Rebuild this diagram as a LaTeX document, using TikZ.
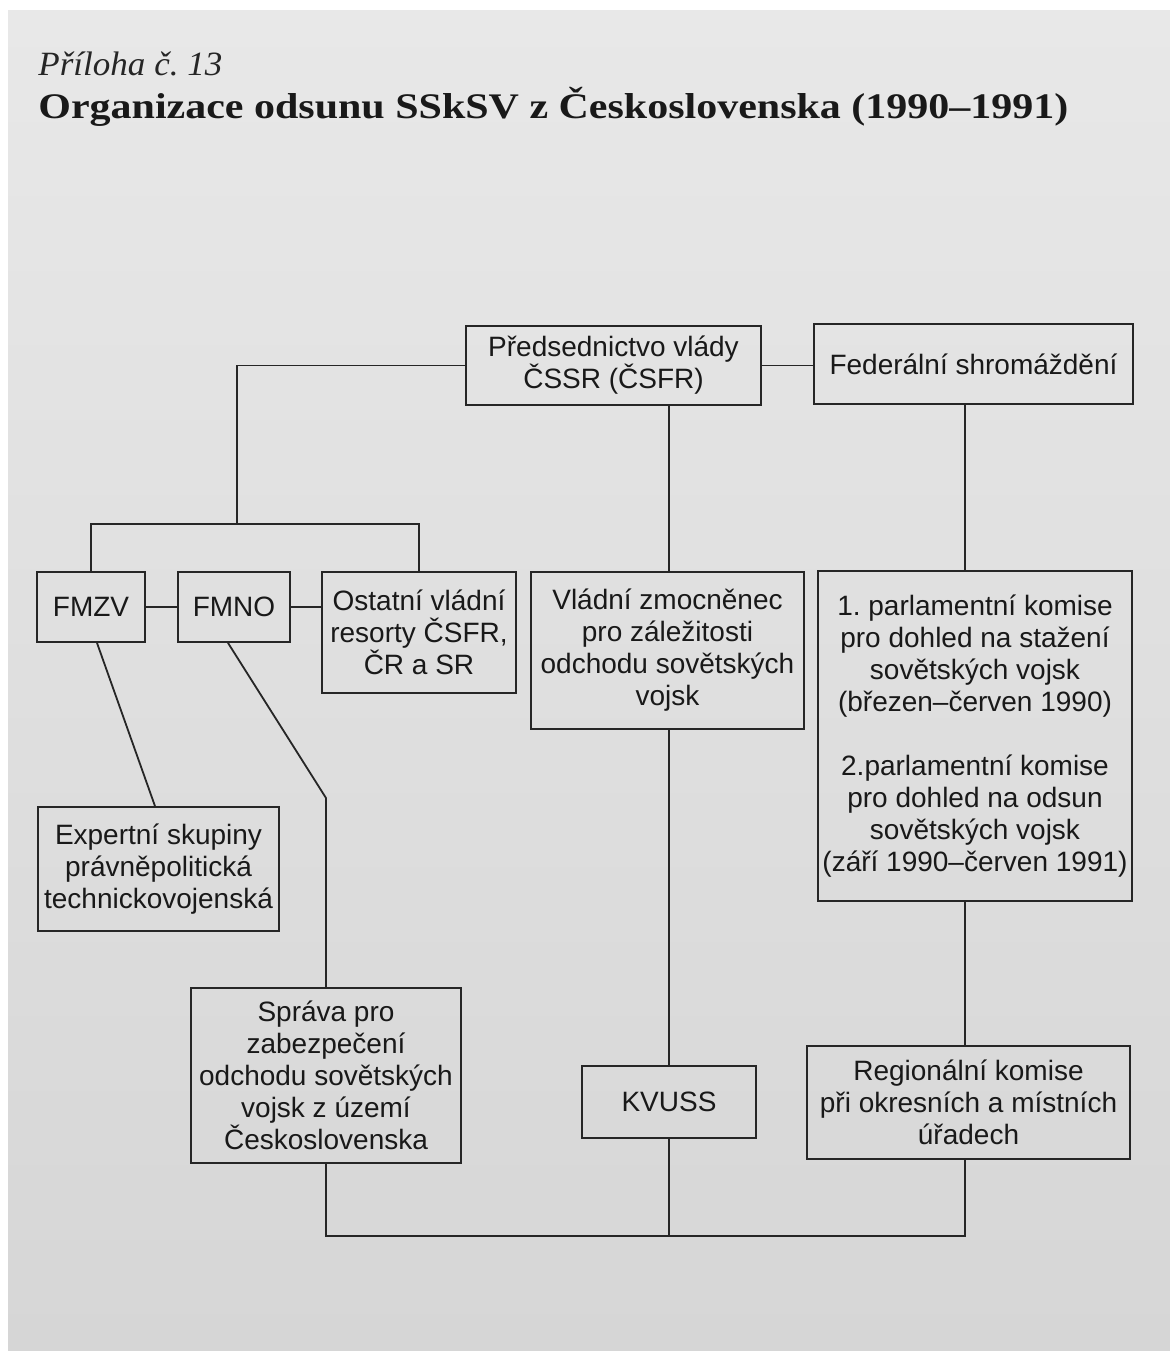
\documentclass[tikz,border=0pt]{standalone}
\usepackage{fontspec}
\usepackage{graphicx}
\setmainfont{Liberation Sans}
\newfontfamily\titlefont{Liberation Serif}
\frenchspacing

\begin{document}
\begin{tikzpicture}[x=0.5pt,y=-0.5pt,
  orgbox/.style={draw=black!85, line width=0.9pt, align=center, inner sep=0pt,
    text=black!90, font=\fontsize{14}{16}\selectfont},
  boxdim/.style 2 args={minimum width=#1, minimum height=#2},
  link/.style={draw=black!85, line width=0.9pt}]

  % Page of the photographed book
  \useasboundingbox (0,0) rectangle (1170,1351);
  \fill[white] (0,0) rectangle (1170,1351);
  \shade[top color={rgb,255:red,232;green,232;blue,232},
    bottom color={rgb,255:red,214;green,214;blue,214}] (8,10) rectangle (1170,1351);

  % Heading
  \node[anchor=base west, inner sep=0pt, text=black!85] (annex) at (38,75)
    {\resizebox{92pt}{\height}{\fontsize{17}{20}\selectfont\titlefont\itshape Příloha č.~13}};
  \node[anchor=base west, inner sep=0pt, text=black!90] (title) at (38,118)
    {\resizebox{515pt}{\height}{\fontsize{18}{20}\selectfont\titlefont\bfseries
      Organizace odsunu SSkSV z Československa (1990–1991)}};

  % Top level
  \node[orgbox, boxdim={147.5pt}{39.5pt}] (pred) at (613.5,365.5)
    {Předsednictvo vlády\\ČSSR (ČSFR)};
  \node[orgbox, boxdim={159.5pt}{40pt}] (fed) at (973.5,364)
    {Federální shromáždění};

  % Ministries
  \node[orgbox, boxdim={54pt}{35pt}] (fmzv) at (91,607) {FMZV};
  \node[orgbox, boxdim={56pt}{35pt}] (fmno) at (234,607) {FMNO};
  \node[orgbox, boxdim={97pt}{60.5pt}] (ost) at (419,632.5)
    {Ostatní vládní\\resorty ČSFR,\\ČR a SR};

  % Commissioner and parliament commissions
  \node[orgbox, boxdim={136.5pt}{78.5pt}] (vlad) at (667.5,650.5)
    {Vládní zmocněnec\\pro záležitosti\\odchodu sovětských\\vojsk};
  \node[orgbox, boxdim={157pt}{165pt}] (parl) at (975,736)
    {1. parlamentní komise\\pro dohled na stažení\\sovětských vojsk\\(březen–červen 1990)\\[16pt]
     2.parlamentní komise\\pro dohled na odsun\\sovětských vojsk\\(září 1990–červen 1991)};

  % Lower level
  \node[orgbox, boxdim={120.5pt}{62pt}] (exp) at (158.5,869)
    {Expertní skupiny\\právněpolitická\\technickovojenská};
  \node[orgbox, boxdim={135pt}{87.5pt}] (sprava) at (326,1075.5)
    {Správa pro\\zabezpečení\\odchodu sovětských\\vojsk z území\\Československa};
  \node[orgbox, boxdim={87pt}{36pt}] (kvuss) at (669,1102) {KVUSS};
  \node[orgbox, boxdim={161.5pt}{56.5pt}] (reg) at (968.5,1102.5)
    {Regionální komise\\při okresních a místních\\úřadech};

  % Spines and bends of the connectors
  \coordinate (L) at (237,0);
  \coordinate (M) at (669,0);
  \coordinate (R) at (965,0);
  \coordinate (bar) at (0,524);
  \coordinate (base) at (0,1236);
  \coordinate (bend) at (326,798);

  % Government side
  \draw[link] (pred.east) -- (pred.east -| fed.west);
  \draw[link] (pred.west) -| (L |- bar);
  \draw[link] (fmzv.north) |- (ost.north |- bar) -- (ost.north);
  \draw[link] (fmzv.east) -- (fmno.west);
  \draw[link] (fmno.east) -- (ost.west |- fmno.east);
  \draw[link] ([xshift=3pt]fmzv.south) -- ([xshift=-1.75pt]exp.north);
  \draw[link] ([xshift=-3pt]fmno.south) -- (bend) -- (sprava.north);

  % Middle spine
  \draw[link] (pred.south -| M) -- (vlad.north -| M);
  \draw[link] (vlad.south -| M) -- (kvuss.north -| M);
  \draw[link] (kvuss.south -| M) -- (base -| M);

  % Parliament side
  \draw[link] (fed.south -| R) -- (parl.north -| R);
  \draw[link] (parl.south -| R) -- (reg.north -| R);
  \draw[link] (reg.south -| R) |- (sprava.south |- base) -- (sprava.south);

\end{tikzpicture}
\end{document}
